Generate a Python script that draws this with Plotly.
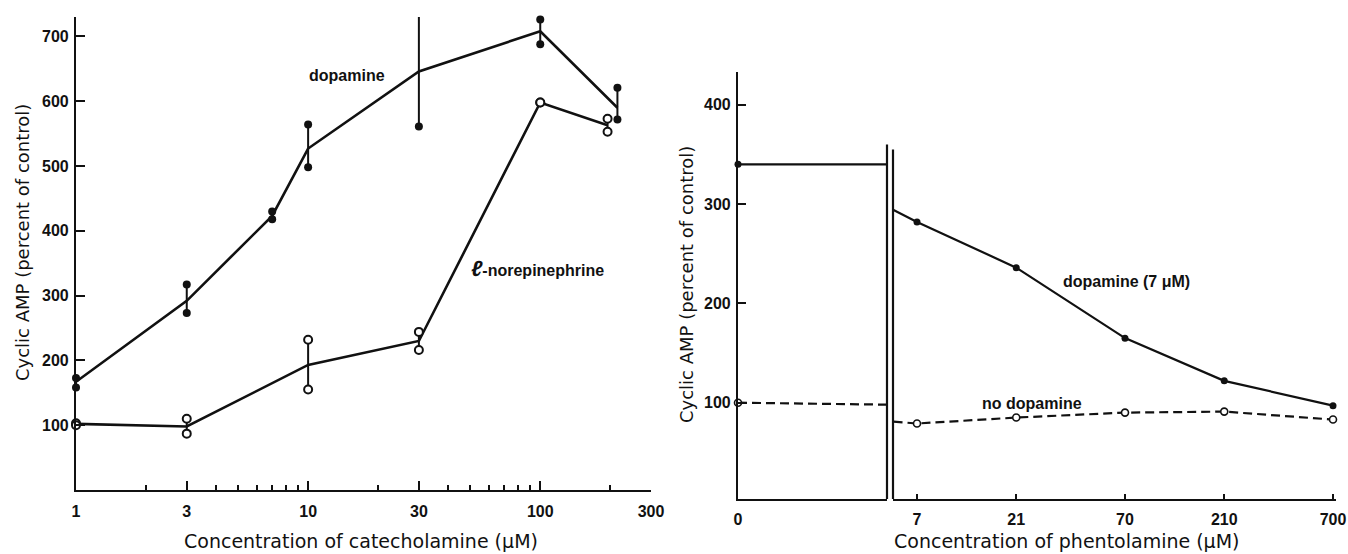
import math
import plotly.graph_objects as go

W, H = 1348, 554

# ---------------- data: left panel (catecholamine) ----------------
cat_conc_dop = [1, 3, 7, 10, 30, 100, 215]
dop_mean = [167, 292, 423, 527, 646, 708, 590]
dop_hi = [173, 317, 430, 564, 734, 726, 621]
dop_lo = [158, 273, 418, 498, 561, 688, 572]

cat_conc_ne = [1, 3, 10, 30, 100, 195]
ne_mean = [102, 98, 193, 230, 598, 563]
ne_hi = [103, 110, 232, 244, 598, 573]
ne_lo = [100, 87, 155, 216, 598, 553]

cat_ticks = [1, 3, 10, 30, 100, 300]
cat_ticktext = ["1", "3", "10", "30", "100", "300"]
cat_yticks = [100, 200, 300, 400, 500, 600, 700]

# ---------------- data: right panel (phentolamine) ----------------
ph_zero_x = [0, 1]              # "0" column, value and break edge
ph_zero_dop = [340, 340]
ph_zero_nodop = [100, 98]

ph_conc = [5.4, 7, 21, 70, 210, 700]   # first entry = line start at break
ph_dop = [294, 282, 236, 165, 122, 97]
ph_nodop = [81, 79, 85, 90, 91, 83]

ph_ticks = [7, 21, 70, 210, 700]
ph_yticks = [100, 200, 300, 400]


def fx(p):
    return p / W


def fy(p):
    return 1 - p / H


FONT = "Liberation Sans, Arial, sans-serif"
TFONT = "DejaVu Sans, Liberation Sans, sans-serif"
BLK = "#111111"

fig = go.Figure()


def connectors(xs, lo, hi):
    X, Y = [], []
    for c, a, b in zip(xs, lo, hi):
        X += [c, c, None]
        Y += [a, b, None]
    return X, Y


ex, ey = connectors(cat_conc_dop, dop_lo, dop_hi)
fig.add_trace(go.Scatter(x=ex, y=ey, mode="lines", line=dict(color=BLK, width=2),
                         xaxis="x", yaxis="y", showlegend=False, hoverinfo="skip"))
ex, ey = connectors(cat_conc_ne, ne_lo, ne_hi)
fig.add_trace(go.Scatter(x=ex, y=ey, mode="lines", line=dict(color=BLK, width=2),
                         xaxis="x", yaxis="y", showlegend=False, hoverinfo="skip"))

fig.add_trace(go.Scatter(x=cat_conc_dop, y=dop_mean, mode="lines",
                         line=dict(color=BLK, width=2.6), xaxis="x", yaxis="y",
                         showlegend=False, cliponaxis=False))
fig.add_trace(go.Scatter(x=cat_conc_ne, y=ne_mean, mode="lines",
                         line=dict(color=BLK, width=2.6), xaxis="x", yaxis="y",
                         showlegend=False, cliponaxis=False))

fig.add_trace(go.Scatter(x=cat_conc_dop + cat_conc_dop, y=dop_hi + dop_lo, mode="markers",
                         marker=dict(color=BLK, size=8), xaxis="x", yaxis="y",
                         showlegend=False, cliponaxis=False))
fig.add_trace(go.Scatter(x=cat_conc_ne + cat_conc_ne, y=ne_hi + ne_lo, mode="markers",
                         marker=dict(color="white", size=8, line=dict(color=BLK, width=2)),
                         xaxis="x", yaxis="y", showlegend=False, cliponaxis=False))

# right panel, "0" section
fig.add_trace(go.Scatter(x=ph_zero_x, y=ph_zero_dop, mode="lines",
                         line=dict(color=BLK, width=2.2), xaxis="x2", yaxis="y2",
                         showlegend=False, cliponaxis=False))
fig.add_trace(go.Scatter(x=ph_zero_x, y=ph_zero_nodop, mode="lines",
                         line=dict(color=BLK, width=2.2, dash="9px,5px"), xaxis="x2", yaxis="y2",
                         showlegend=False, cliponaxis=False))
fig.add_trace(go.Scatter(x=ph_zero_x[:1], y=ph_zero_dop[:1], mode="markers",
                         marker=dict(color=BLK, size=7), xaxis="x2", yaxis="y2",
                         showlegend=False, cliponaxis=False))
fig.add_trace(go.Scatter(x=ph_zero_x[:1], y=ph_zero_nodop[:1], mode="markers",
                         marker=dict(color="white", size=7, line=dict(color=BLK, width=1.6)),
                         xaxis="x2", yaxis="y2", showlegend=False, cliponaxis=False))

# right panel, phentolamine section
fig.add_trace(go.Scatter(x=ph_conc, y=ph_dop, mode="lines",
                         line=dict(color=BLK, width=2.2), xaxis="x3", yaxis="y3",
                         showlegend=False, cliponaxis=False))
fig.add_trace(go.Scatter(x=ph_conc, y=ph_nodop, mode="lines",
                         line=dict(color=BLK, width=2.2, dash="9px,5px"), xaxis="x3", yaxis="y3",
                         showlegend=False, cliponaxis=False))
fig.add_trace(go.Scatter(x=ph_conc[1:], y=ph_dop[1:], mode="markers",
                         marker=dict(color=BLK, size=7), xaxis="x3", yaxis="y3",
                         showlegend=False, cliponaxis=False))
fig.add_trace(go.Scatter(x=ph_conc[1:], y=ph_nodop[1:], mode="markers",
                         marker=dict(color="white", size=7, line=dict(color=BLK, width=1.6)),
                         xaxis="x3", yaxis="y3", showlegend=False, cliponaxis=False))

tickfont = dict(family=FONT, size=16, color=BLK, weight=700)
axcommon = dict(showgrid=False, zeroline=False, showline=True, linecolor=BLK,
                linewidth=2.2, ticks="inside", tickcolor=BLK, tickfont=tickfont,
                automargin=False, ticklabeloverflow="allow")

# phentolamine axis: 7 at px 917, 700 at px 1333, axis from px 893 to 1336
x3_left, x3_right = 893, 1336
px_per_dec = (1333 - 917) / 2
x3_lo = math.log10(7) - (917 - x3_left) / px_per_dec
x3_hi = math.log10(700) + (x3_right - 1333) / px_per_dec

fig.update_layout(
    width=W, height=H, autosize=False,
    margin=dict(l=0, r=0, t=0, b=0),
    paper_bgcolor="white", plot_bgcolor="white",
    showlegend=False,
    xaxis=dict(domain=[fx(76), fx(651)], type="log", range=[0, math.log10(300)],
               tickvals=cat_ticks, ticktext=cat_ticktext, ticklen=9, tickwidth=2,
               minor=dict(dtick="D1", ticks="inside", ticklen=5, tickwidth=1.5, tickcolor=BLK,
                          showgrid=False),
               anchor="y", ticklabelstandoff=6, **axcommon),
    yaxis=dict(domain=[fy(490), fy(17)], range=[0, 730], tickvals=cat_yticks,
               ticklen=9, tickwidth=2, anchor="x", ticklabelstandoff=2, **axcommon),
    xaxis2=dict(domain=[fx(738), fx(887)], range=[0, 1], tickvals=[0], ticktext=["0"],
                ticklen=0, anchor="y2", ticklabelstandoff=5, **axcommon),
    yaxis2=dict(domain=[fy(499), fy(72)], range=[3, 433], tickvals=ph_yticks,
                ticklen=8, tickwidth=2, anchor="x2", ticklabelstandoff=2, **axcommon),
    xaxis3=dict(domain=[fx(x3_left), fx(x3_right)], type="log", range=[x3_lo, x3_hi],
                tickvals=ph_ticks, ticktext=[str(t) for t in ph_ticks], ticklen=5, tickwidth=1.5,
                anchor="y3", ticklabelstandoff=5, **axcommon),
    yaxis3=dict(domain=[fy(499), fy(72)], range=[3, 433], visible=False, anchor="x3",
                automargin=False),
)

fig.add_shape(type="line", xref="x2 domain", yref="y2", x0=1, x1=1, y0=3, y1=360,
              line=dict(color=BLK, width=2.2))
fig.add_shape(type="line", xref="x3 domain", yref="y3", x0=0, x1=0, y0=3, y1=355,
              line=dict(color=BLK, width=2.2))


def ann(text, x, y, size, angle=0, weight=400, family=FONT):
    fig.add_annotation(text=text, x=fx(x), y=fy(y), xref="paper", yref="paper",
                       showarrow=False, textangle=angle, xanchor="center", yanchor="middle",
                       font=dict(family=family, size=size, color=BLK, weight=weight))


ann("Cyclic AMP (percent of control)", 22, 243, 18, angle=-90, family=TFONT)
ann("Concentration of catecholamine (μM)", 361, 541, 19, family=TFONT)
ann("Cyclic AMP (percent of control)", 686, 285, 18, angle=-90, family=TFONT)
ann("Concentration of phentolamine (μM)", 1067, 541, 19, family=TFONT)
ann("dopamine", 347, 76, 16, weight=700)
ann("<span style='font-size:22px;font-style:italic'>ℓ</span>-norepinephrine", 537, 268, 16, weight=700)
ann("dopamine (7 μM)", 1126, 281, 16, weight=700)
ann("no dopamine", 1032, 403, 16, weight=700)

fig.write_html(
    "out.html",
    config={"displayModeBar": False, "responsive": False},
    post_script="document.body.style.margin='0';document.body.style.overflow='hidden';",
)
